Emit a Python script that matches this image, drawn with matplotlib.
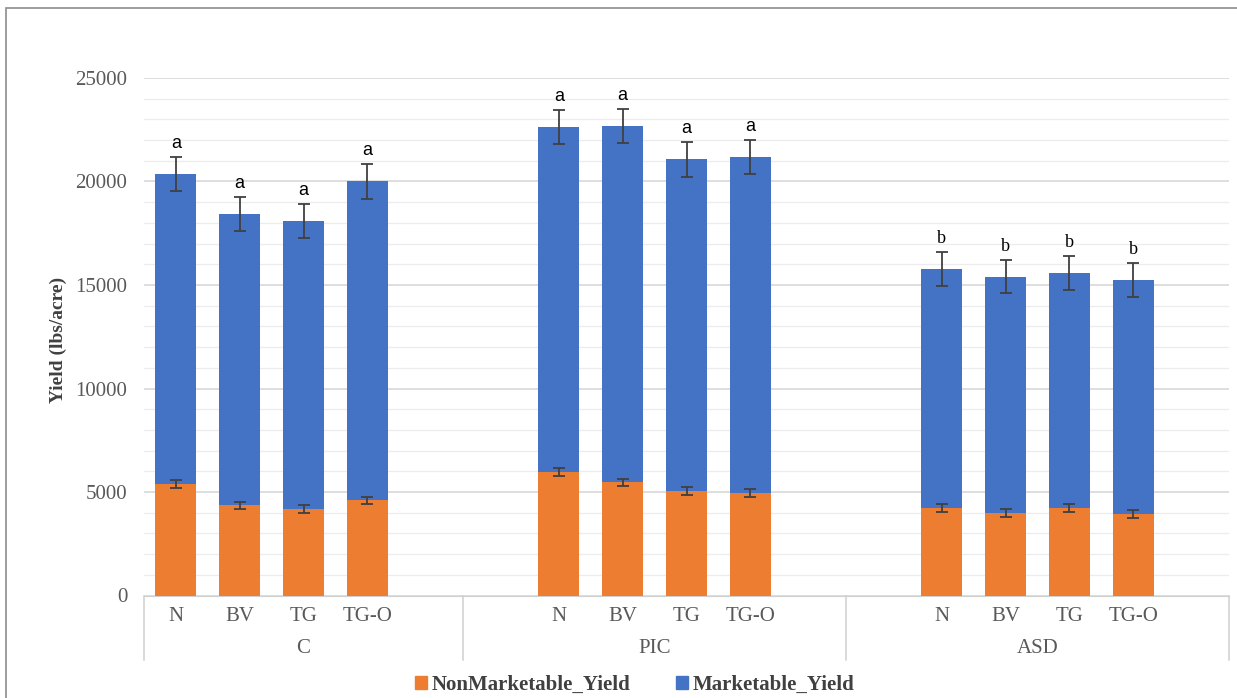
import numpy as np
import matplotlib
matplotlib.use("Agg")
import matplotlib.pyplot as plt
from matplotlib.patches import Patch, Rectangle
from matplotlib.transforms import blended_transform_factory

# data
groups = ["C", "PIC", "ASD"]
treatments = ["N", "BV", "TG", "TG-O"]
nonmarketable = [5400, 4350, 4160, 4590,
                 5980, 5460, 5040, 4970,
                 4240, 4000, 4210, 3920]
marketable = [14950, 14080, 13920, 15410,
              16640, 17220, 16030, 16220,
              11540, 11410, 11360, 11310]
nonmarketable_err = [190, 190, 190, 190,
                     190, 190, 190, 190,
                     190, 190, 190, 190]
marketable_err = [830, 820, 820, 830,
                  830, 830, 830, 820,
                  830, 810, 820, 830]
letters = ["a", "a", "a", "a",
           "a", "a", "a", "a",
           "b", "b", "b", "b"]

# slot layout like the Excel sheet: blank categories pad the groups
group_slots = [[0, 1, 2, 3], [6, 7, 8, 9], [12, 13, 14, 15]]
group_bounds = [(-0.5, 4.5), (4.5, 10.5), (10.5, 16.5)]
x = np.array([s for g in group_slots for s in g])

orange = "#ED7D31"
blue = "#4472C4"
grey_txt = "#595959"
serif = "Liberation Serif"

fig = plt.figure(figsize=(12.37, 6.98), dpi=100)
ax = fig.add_axes([144 / 1237, 1 - 595.5 / 698, (1229 - 144) / 1237, (595.5 - 78) / 698])

ax.bar(x, nonmarketable, width=0.64, color=orange, zorder=3)
ax.bar(x, marketable, width=0.64, bottom=nonmarketable, color=blue, zorder=3)

totals = np.array(nonmarketable) + np.array(marketable)
ax.errorbar(x, nonmarketable, yerr=nonmarketable_err, fmt="none", ecolor="#404040",
            elinewidth=1.3, capsize=4, capthick=1.3, zorder=4)
ax.errorbar(x, totals, yerr=marketable_err, fmt="none", ecolor="#404040",
            elinewidth=1.3, capsize=4, capthick=1.3, zorder=4)

for xi, top, err, lab in zip(x, totals, marketable_err, letters):
    fam = "Liberation Sans" if lab == "a" else serif
    ax.annotate(lab, (xi, top + err), xytext=(0, 6.5), textcoords="offset points",
                ha="center", va="baseline", fontsize=13, family=fam, color="black")

ax.set_xlim(-0.5, 16.5)
ax.set_ylim(0, 25000)
ax.set_yticks(np.arange(0, 25001, 5000))
ax.set_yticks(np.arange(0, 25001, 1000), minor=True)
ax.grid(axis="y", which="major", color="#d4d4d4", linewidth=1.1, zorder=0)
ax.grid(axis="y", which="minor", color="#ececec", linewidth=0.9, zorder=0)
ax.tick_params(axis="y", which="both", length=0, pad=12, labelsize=15, labelcolor=grey_txt)
for t in ax.get_yticklabels():
    t.set_family(serif)

ax.set_xticks(x)
ax.set_xticklabels(treatments * 3, family=serif, fontsize=15, color=grey_txt)
ax.tick_params(axis="x", length=0, pad=8)

for s in ["top", "right", "left"]:
    ax.spines[s].set_visible(False)
ax.spines["bottom"].set_color("#d0d0d0")

trans = blended_transform_factory(ax.transData, ax.transAxes)
for (lo, hi), name in zip(group_bounds, groups):
    ax.text((lo + hi) / 2, -0.103, name, transform=trans, ha="center", va="center",
            family=serif, fontsize=15, color=grey_txt)
for b in [-0.5, 4.5, 10.5, 16.5]:
    ax.plot([b, b], [0, -0.125], transform=trans, color="#d0d0d0", lw=1.1, clip_on=False)

fig.text(58 / 1237, 1 - 340 / 698, "Yield (lbs/acre)", rotation=90, ha="center", va="center",
         family=serif, fontsize=14, fontweight="bold", color="#404040")

handles = [Patch(color=orange, label="NonMarketable_Yield"),
           Patch(color=blue, label="Marketable_Yield")]
leg = fig.legend(handles=handles, loc="center", bbox_to_anchor=(635 / 1237, 1 - 685 / 698),
                 ncol=2, frameon=False, handlelength=0.55, handleheight=0.55,
                 handletextpad=0.25, columnspacing=2.2,
                 prop={"family": serif, "weight": "bold", "size": 15})
for t in leg.get_texts():
    t.set_color("#404040")

fig.patches.append(Rectangle((6 / 1237, -0.05), 1.0, 1 - 8 / 698 + 0.05, transform=fig.transFigure,
                             fill=False, edgecolor="#8c8c8c", lw=1.2))

fig.savefig("out.png", dpi=100)
